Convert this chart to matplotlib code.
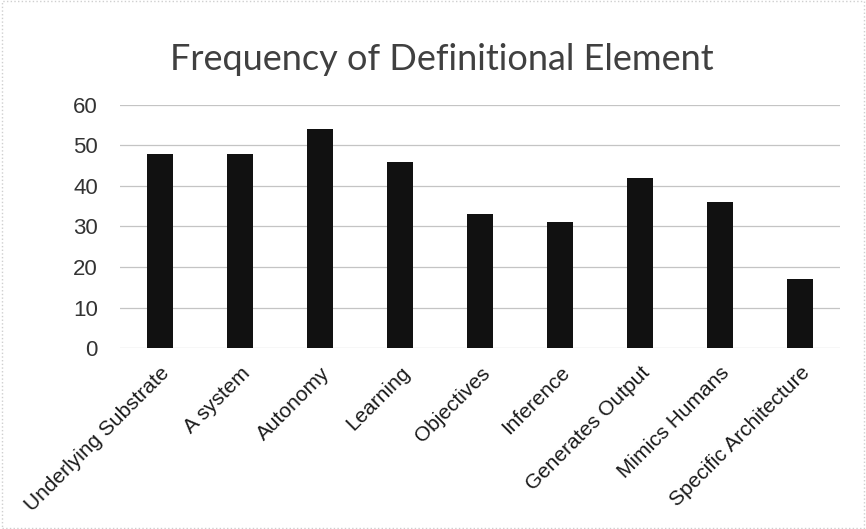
import matplotlib
matplotlib.use("Agg")
import matplotlib.pyplot as plt
from matplotlib.patches import Rectangle

categories = ["Underlying Substrate", "A system", "Autonomy", "Learning", "Objectives",
              "Inference", "Generates Output", "Mimics Humans", "Specific Architecture"]
values = [48, 48, 54, 46, 33, 31, 42, 36, 17]
yticks = [0, 10, 20, 30, 40, 50, 60]

fig = plt.figure(figsize=(8.66, 5.29), dpi=100)
ax = fig.add_axes([120/866, 1-348/529, 720/866, (348-105)/529])

x = list(range(len(categories)))
ax.bar(x, values, width=0.325, color="#111111", zorder=3)
ax.set_xlim(-0.5, len(categories)-0.5)
ax.set_ylim(0, 60)
ax.set_yticks(yticks)
ax.set_yticklabels([str(v) for v in yticks], fontsize=16, family="Liberation Sans", color="#333333")
ax.set_xticks(x)
ax.set_xticklabels(categories, rotation=45, ha="right", rotation_mode="anchor",
                   fontsize=15, family="Liberation Sans", color="#1a1a1a")
ax.tick_params(axis="both", length=0)
ax.tick_params(axis="y", pad=16)
ax.tick_params(axis="x", pad=11)
for s in ax.spines.values():
    s.set_visible(False)
ax.grid(axis="y", color="#c4c4c4", linewidth=0.9, zorder=0)
ax.set_axisbelow(True)

fig.text(442/866, 1-60/529, "Frequency of Definitional Element", ha="center", va="center",
         fontsize=26, family="Lato", color="#404040")

fig.patches.append(Rectangle((0.002, 0.002), 0.996, 0.996, transform=fig.transFigure,
                             fill=False, edgecolor="#cfcfcf", linewidth=1, linestyle=":"))

fig.savefig("out.png", dpi=100)
